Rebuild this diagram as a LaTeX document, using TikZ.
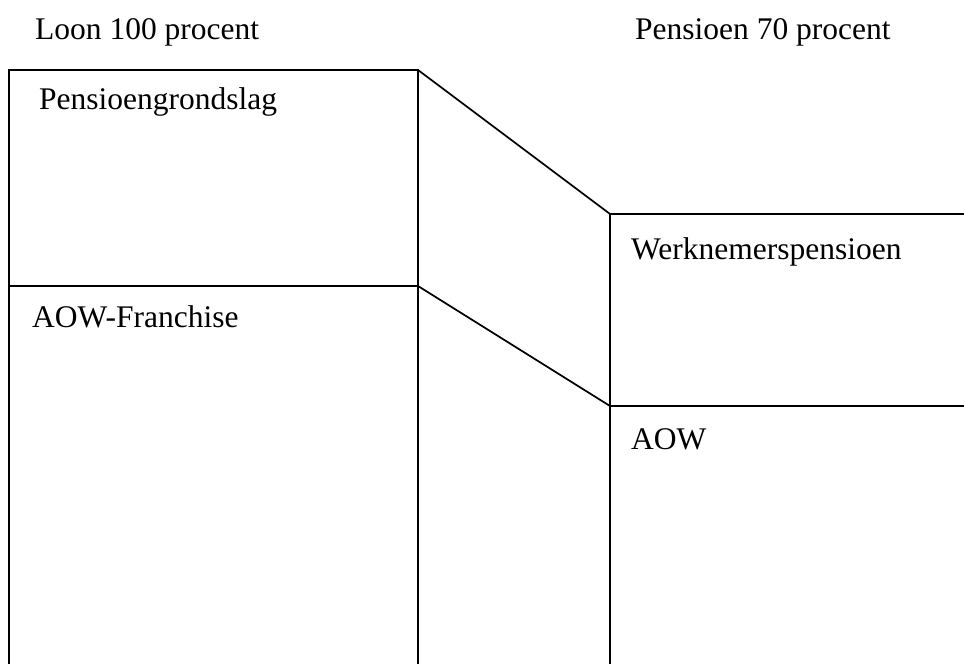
\documentclass[tikz,border=0pt]{standalone}
\usepackage{fontspec}
\setmainfont{Liberation Serif}
\begin{document}
\begin{tikzpicture}[x=1pt,y=-1pt,
  lbl/.style={anchor=base west,inner sep=0pt,font=\fontsize{31.5}{38}\selectfont},
  ln/.style={line width=1.7pt,line cap=rect}]
\useasboundingbox (0,0) rectangle (964,664);
% coordinates
\coordinate (lbl) at (9,664);
\coordinate (ltl) at (9,70);
\coordinate (ltr) at (418,70);
\coordinate (lmid) at (418,286);
\coordinate (lml) at (9,286);
\coordinate (lbr) at (418,664);
\coordinate (rtl) at (610,214);
\coordinate (rtr) at (964,214);
\coordinate (rmid) at (610,406);
\coordinate (rmr) at (964,406);
\coordinate (rbl) at (610,664);
% lines
\draw[ln] (lbl) -- (ltl) -- (ltr) -- (lbr);
\draw[ln] (lml) -- (lmid);
\draw[ln] (ltr) -- (rtl) -- (rtr);
\draw[ln] (lmid) -- (rmid) -- (rmr);
\draw[ln] (rtl) -- (rbl);
% texts
\node[lbl] (t1) at (35,39) {Loon 100 procent};
\node[lbl] (t2) at (635,39) {Pensioen 70 procent};
\node[lbl] (t3) at (39,109) {Pensioengrondslag};
\node[lbl] (t4) at (32,327) {AOW-Franchise};
\node[lbl] (t5) at (631,259) {Werknemerspensioen};
\node[lbl] (t6) at (631,449) {AOW};
\end{tikzpicture}
\end{document}
